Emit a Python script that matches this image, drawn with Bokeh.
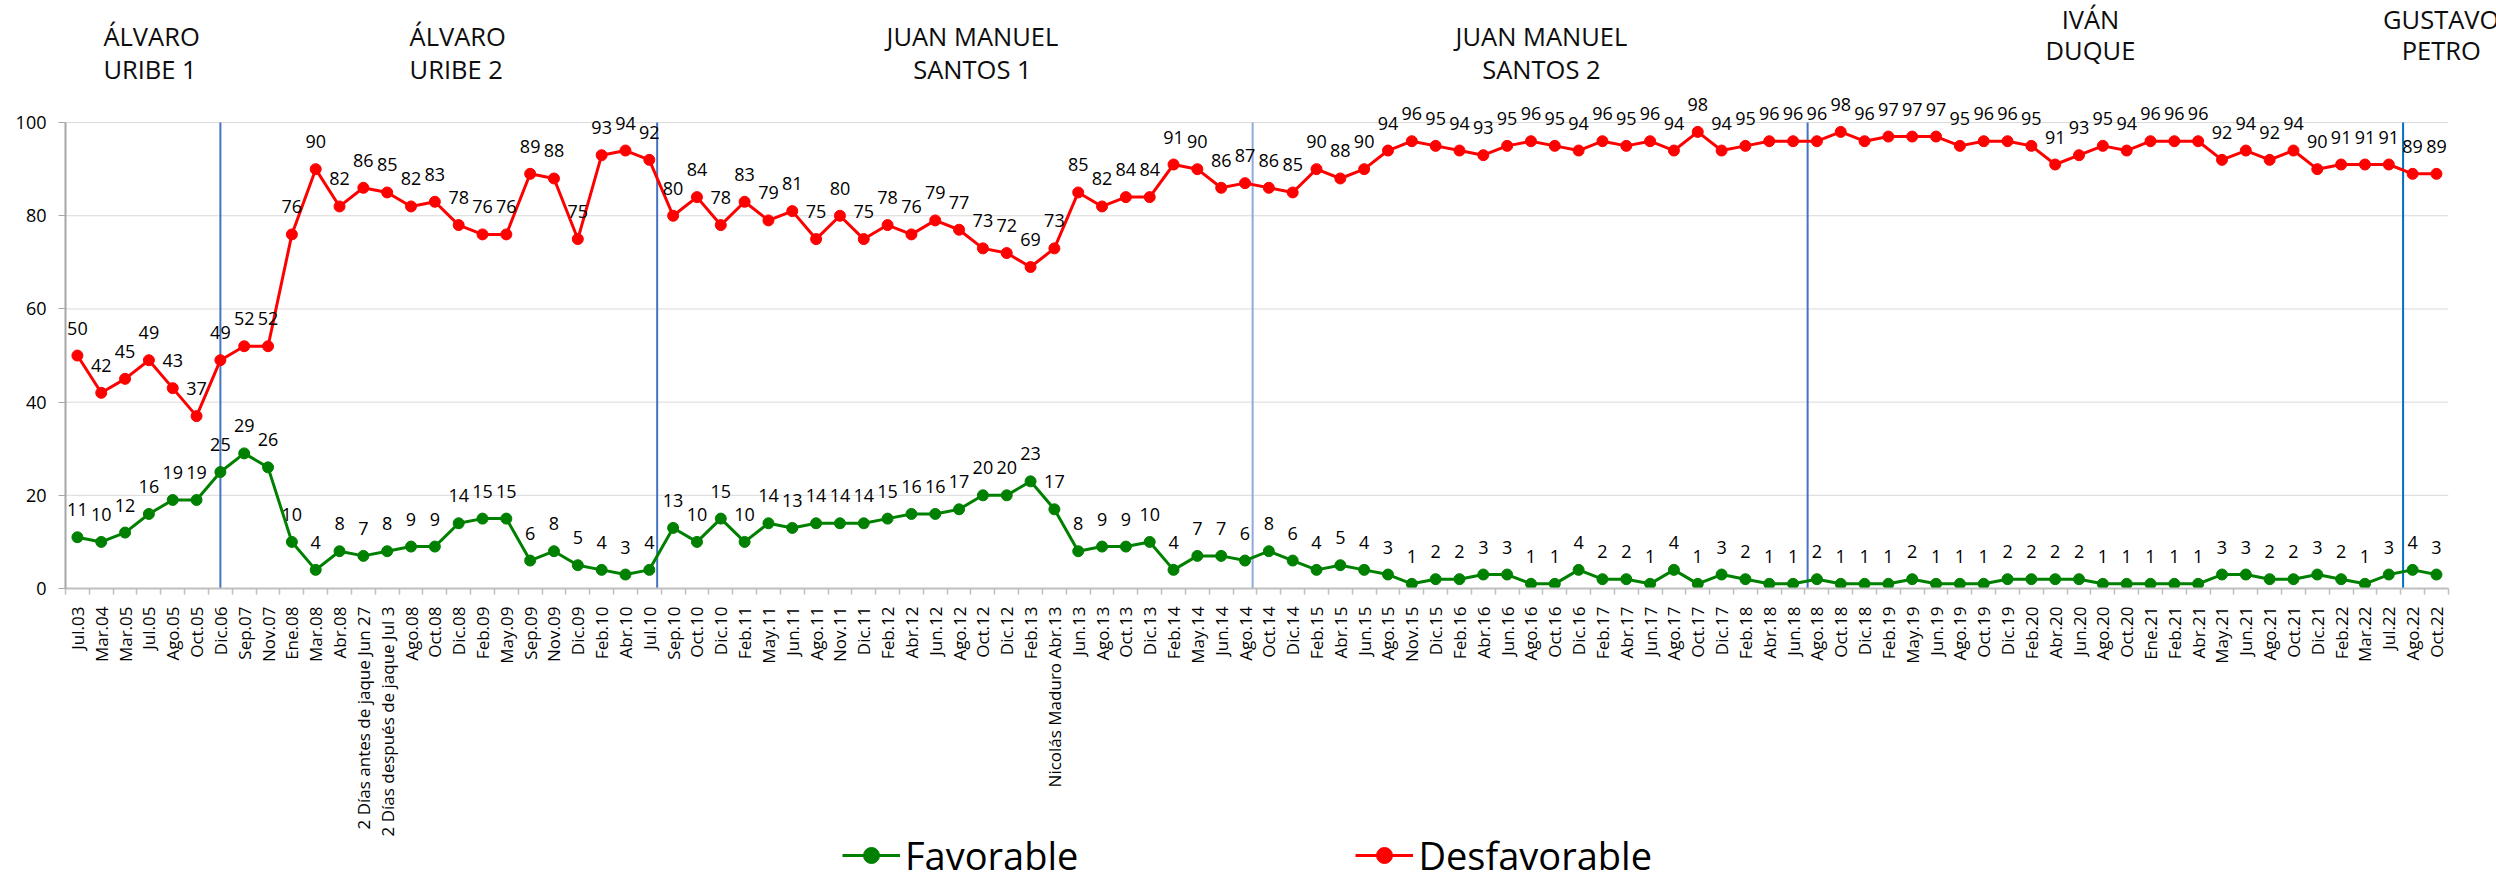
import math
from bokeh.plotting import figure
from bokeh.layouts import column
from bokeh.models import (ColumnDataSource, FixedTicker, Range1d, Label,
                          LabelSet, Legend, LegendItem)
from bokeh.core.properties import value
from bokeh.embed import file_html
from bokeh.resources import INLINE

categories = [
    "Jul.03", "Mar.04", "Mar.05", "Jul.05", "Ago.05", "Oct.05", "Dic.06", "Sep.07", "Nov.07", "Ene.08",
    "Mar.08", "Abr.08", "2 Días antes de jaque Jun 27", "2 Días después de jaque Jul 3", "Ago.08", "Oct.08",
    "Dic.08", "Feb.09", "May.09", "Sep.09", "Nov.09", "Dic.09", "Feb.10", "Abr.10", "Jul.10", "Sep.10",
    "Oct.10", "Dic.10", "Feb.11", "May.11", "Jun.11", "Ago.11", "Nov.11", "Dic.11", "Feb.12", "Abr.12",
    "Jun.12", "Ago.12", "Oct.12", "Dic.12", "Feb.13", "Nicolás Maduro Abr.13", "Jun.13", "Ago.13", "Oct.13",
    "Dic.13", "Feb.14", "May.14", "Jun.14", "Ago.14", "Oct.14", "Dic.14", "Feb.15", "Abr.15", "Jun.15",
    "Ago.15", "Nov.15", "Dic.15", "Feb.16", "Abr.16", "Jun.16", "Ago.16", "Oct.16", "Dic.16", "Feb.17",
    "Abr.17", "Jun.17", "Ago.17", "Oct.17", "Dic.17", "Feb.18", "Abr.18", "Jun.18", "Ago.18", "Oct.18",
    "Dic.18", "Feb.19", "May.19", "Jun.19", "Ago.19", "Oct.19", "Dic.19", "Feb.20", "Abr.20", "Jun.20",
    "Ago.20", "Oct.20", "Ene.21", "Feb.21", "Abr.21", "May.21", "Jun.21", "Ago.21", "Oct.21", "Dic.21",
    "Feb.22", "Mar.22", "Jul.22", "Ago.22", "Oct.22",
]

favorable = [
    11, 10, 12, 16, 19, 19, 25, 29, 26, 10,
    4, 8, 7, 8, 9, 9, 14, 15, 15, 6,
    8, 5, 4, 3, 4, 13, 10, 15, 10, 14,
    13, 14, 14, 14, 15, 16, 16, 17, 20, 20,
    23, 17, 8, 9, 9, 10, 4, 7, 7, 6,
    8, 6, 4, 5, 4, 3, 1, 2, 2, 3,
    3, 1, 1, 4, 2, 2, 1, 4, 1, 3,
    2, 1, 1, 2, 1, 1, 1, 2, 1, 1,
    1, 2, 2, 2, 2, 1, 1, 1, 1, 1,
    3, 3, 2, 2, 3, 2, 1, 3, 4, 3,
]

desfavorable = [
    50, 42, 45, 49, 43, 37, 49, 52, 52, 76,
    90, 82, 86, 85, 82, 83, 78, 76, 76, 89,
    88, 75, 93, 94, 92, 80, 84, 78, 83, 79,
    81, 75, 80, 75, 78, 76, 79, 77, 73, 72,
    69, 73, 85, 82, 84, 84, 91, 90, 86, 87,
    86, 85, 90, 88, 90, 94, 96, 95, 94, 93,
    95, 96, 95, 94, 96, 95, 96, 94, 98, 94,
    95, 96, 96, 96, 98, 96, 97, 97, 97, 95,
    96, 96, 95, 91, 93, 95, 94, 96, 96, 96,
    92, 94, 92, 94, 90, 91, 91, 91, 89, 89,
]

y_ticks = [0, 20, 40, 60, 80, 100]

# presidential periods: (line1, line2)
periods = [("ÁLVARO", "URIBE 1"), ("ÁLVARO", "URIBE 2"), ("JUAN MANUEL", "SANTOS 1"),
           ("JUAN MANUEL", "SANTOS 2"), ("IVÁN", "DUQUE"), ("GUSTAVO", "PETRO")]

series_names = ["Favorable", "Desfavorable"]

FONT = "Open Sans"
GREEN = "#008000"
RED = "#FF0000"
n = len(categories)
xs = list(range(n))
src = ColumnDataSource(dict(
    x=xs, fav=favorable, des=desfavorable,
    fav_t=[str(v) for v in favorable], des_t=[str(v) for v in desfavorable],
))

W = 2496
MAIN_H = 839
LEG_H = 872 - MAIN_H

x_lo, x_hi = -0.5, n - 0.5
p = figure(width=W, height=MAIN_H, output_backend="svg", toolbar_location=None,
           x_range=Range1d(x_lo, x_hi + 2.02), y_range=Range1d(0, 126.2),
           min_border_left=65, min_border_right=0, min_border_top=0, min_border_bottom=0)
p.outline_line_color = None
p.background_fill_color = "white"
p.xgrid.visible = False
p.ygrid.visible = False

# horizontal gridlines restricted to the category span
gsrc = ColumnDataSource(dict(y=y_ticks, x0=[x_lo] * len(y_ticks), x1=[x_hi] * len(y_ticks)))
p.segment(x0="x0", x1="x1", y0="y", y1="y", source=gsrc, line_color="#D9D9D9",
          line_width=1, level="underlay")

# x axis
xa = p.xaxis[0]
xa.bounds = (x_lo, x_hi)
xa.ticker = FixedTicker(ticks=xs, minor_ticks=[i - 0.5 for i in range(n + 1)])
xa.major_label_overrides = {i: c for i, c in enumerate(categories)}
xa.major_label_orientation = math.pi / 2
xa.major_tick_out = 0
xa.major_tick_in = 0
xa.minor_tick_out = 6
xa.minor_tick_in = 0
xa.minor_tick_line_color = "#BFBFBF"
xa.minor_tick_line_width = 1.5
xa.axis_line_color = "#BFBFBF"
xa.axis_line_width = 2
xa.major_label_standoff = 12
xa.major_label_text_font = FONT
xa.major_label_text_font_size = "17px"
xa.major_label_text_color = "#000000"

# y axis
ya = p.yaxis[0]
ya.bounds = (0, 100)
ya.ticker = FixedTicker(ticks=y_ticks)
ya.major_tick_out = 7
ya.major_tick_in = 0
ya.minor_tick_line_color = None
ya.major_tick_line_color = "#A6A6A6"
ya.axis_line_color = "#A6A6A6"
ya.axis_line_width = 2
ya.major_label_standoff = 12
ya.major_label_text_font = FONT
ya.major_label_text_font_size = "18px"
ya.major_label_text_color = "#000000"

# period separators (between presidential terms)
sep_loc = [6.0, 24.33, 49.32, 72.61, 97.6]
sep_col = ["#4472C4", "#4472C4", "#8FAADC", "#4472C4", "#0070C0"]
ssrc = ColumnDataSource(dict(x=sep_loc, y0=[0] * 5, y1=[100] * 5, c=sep_col))
p.segment(x0="x", x1="x", y0="y0", y1="y1", source=ssrc, line_color="c", line_width=2)

# series
p.line("x", "fav", source=src, line_color=GREEN, line_width=3)
p.scatter("x", "fav", source=src, size=11, fill_color=GREEN, line_color=GREEN)
p.line("x", "des", source=src, line_color=RED, line_width=3)
p.scatter("x", "des", source=src, size=11, fill_color=RED, line_color=RED)

for col in ("fav", "des"):
    p.add_layout(LabelSet(x="x", y=col, text=col + "_t", source=src, y_offset=21,
                          text_align="center", text_baseline="alphabetic",
                          text_font=value(FONT), text_font_size="18px", text_color="#000000"))

# period titles
title_pos = [(1.09, "left", 118.5, 111.6), (13.94, "left", 118.5, 111.6),
             (37.56, "center", 118.5, 111.6), (61.44, "center", 118.5, 111.6),
             (84.48, "center", 122.2, 115.65), (99.2, "center", 122.2, 115.65)]
for (l1, l2), (tx, al, y1, y2) in zip(periods, title_pos):
    for txt, ty in ((l1, y1), (l2, y2)):
        p.add_layout(Label(x=tx, y=ty, text=txt, text_align=al, text_baseline="middle",
                           text_font=FONT, text_font_size="25.5px", text_color="#0D0D0D"))

# legend strip (separate figure so that it is not clipped by the main frame)
pl = figure(width=W, height=LEG_H, output_backend="svg", toolbar_location=None,
            x_range=Range1d(-1000, -999), y_range=Range1d(-1000, -999),
            x_axis_location=None, y_axis_location=None,
            min_border_left=0, min_border_right=0, min_border_top=0, min_border_bottom=0)
pl.grid.visible = False
pl.outline_line_color = None
lf = pl.line("x", "fav", source=src, line_color=GREEN, line_width=3)
pf = pl.scatter("x", "fav", source=src, size=11, fill_color=GREEN, line_color=GREEN)
ld = pl.line("x", "des", source=src, line_color=RED, line_width=3)
pd_ = pl.scatter("x", "des", source=src, size=11, fill_color=RED, line_color=RED)
legend = Legend(items=[LegendItem(label=series_names[0], renderers=[lf, pf]),
                       LegendItem(label=series_names[1], renderers=[ld, pd_])],
                orientation="horizontal", location=(777, -9),
                label_text_font=FONT, label_text_font_size="38px", label_text_color="#000000",
                glyph_width=58, glyph_height=40, label_height=40, label_standoff=5,
                spacing=277, padding=0, margin=0,
                border_line_alpha=0, background_fill_alpha=0)
pl.add_layout(legend)

layout = column(p, pl, spacing=0)
open("out.html", "w").write(file_html(layout, INLINE))
